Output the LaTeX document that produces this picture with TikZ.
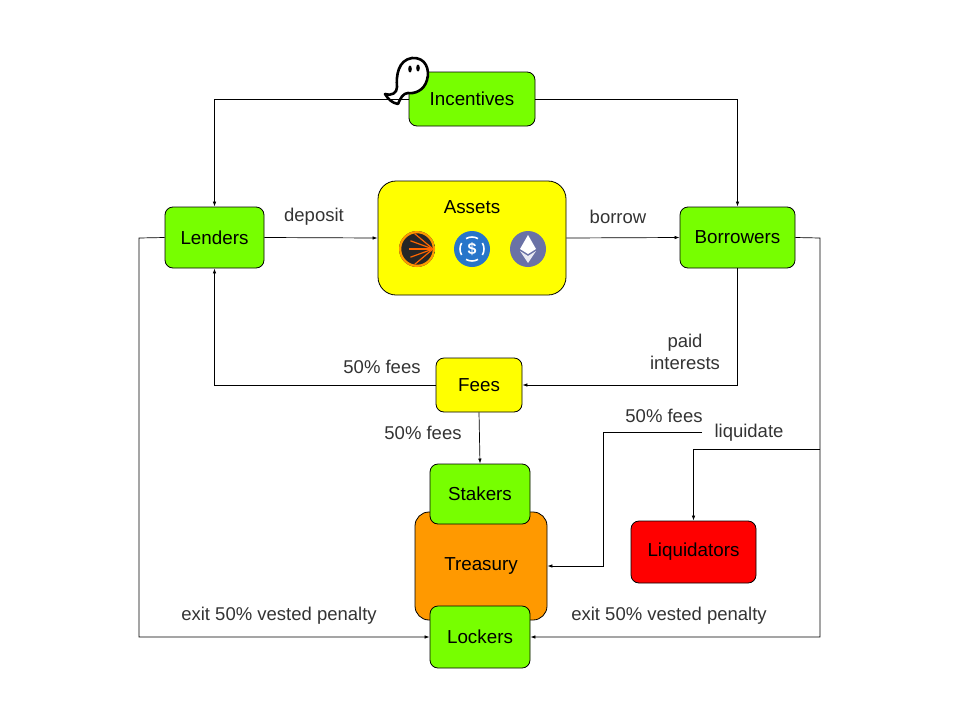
\documentclass[tikz,border=0pt]{standalone}
\usepackage{fontspec}
\setmainfont{Liberation Sans}
\usetikzlibrary{arrows.meta}
\definecolor{grn}{HTML}{77FF00}
\definecolor{yel}{HTML}{FFFF00}
\definecolor{org}{HTML}{FF9900}
\definecolor{rd}{HTML}{FF0000}
\definecolor{usdc}{HTML}{2775CA}
\definecolor{eth}{HTML}{6A72A6}
\begin{document}
\begin{tikzpicture}[x=1pt,y=-1pt,
  box/.style={draw=black,rounded corners=8pt,line width=0.8pt,inner sep=0pt,font=\fontsize{18.8}{22}\selectfont},
  lbl/.style={font=\fontsize{18.5}{22}\selectfont,text=black!80,align=center},
  con/.style={draw=black,line width=0.7pt,-{Latex[length=5pt,width=3.5pt]}}]
\useasboundingbox (0,0) rectangle (960,720);
\node[box,fill=grn,minimum width=126pt,minimum height=54pt] (inc) at (472,99) {Incentives};
\node[box,fill=grn,minimum width=99pt,minimum height=61pt] (len) at (214.5,237.5) {Lenders};
\node[box,fill=yel,rounded corners=18pt,minimum width=188pt,minimum height=114pt] (ass) at (472,238) {};
\node[font=\fontsize{18.8}{22}\selectfont] (asst) at (472,207) {Assets};
\node[box,fill=grn,minimum width=115pt,minimum height=61pt] (bor) at (737.5,237.5) {Borrowers};
\node[box,fill=yel,minimum width=86pt,minimum height=54pt] (fee) at (479,385) {Fees};
\node[box,fill=org,rounded corners=14pt,minimum width=132pt,minimum height=108pt] (tre) at (481,566) {Treasury};
\node[box,fill=grn,minimum width=100pt,minimum height=60pt] (stk) at (480,494) {Stakers};
\node[box,fill=grn,minimum width=100pt,minimum height=62pt] (lck) at (480,637) {Lockers};
\node[box,fill=rd,minimum width=125pt,minimum height=62pt] (liq) at (693.5,552) {Liquidators};
% icons
\fill[black!85] (417,249) circle (18);
\begin{scope}
\clip (417,249) circle (18);
\draw[org,line width=2.5pt] (417,249) circle (17);
\foreach \a in {-40,-20,0,20,40}{\draw[orange!80!red,line width=1.2pt] (433,249) -- ++(180+\a:24);}
\end{scope}
\fill[usdc] (472,249) circle (18);
\draw[white,line width=1.6pt] (472,249) ++(60:12) arc (60:120:12);
\draw[white,line width=1.6pt] (472,249) ++(240:12) arc (240:300:12);
\draw[white,line width=1.6pt] (472,249) ++(150:12) arc (150:210:12);
\draw[white,line width=1.6pt] (472,249) ++(-30:12) arc (-30:30:12);
\node[text=white,font=\bfseries\fontsize{16}{16}\selectfont] (usd) at (472,249) {\$};
\fill[eth] (528,249) circle (18);
\fill[white] (528,235) -- (536,249) -- (528,254) -- (520,249) -- cycle;
\fill[white!85!eth] (528,256) -- (536,251) -- (528,263) -- (520,251) -- cycle;
% ghost
\draw[fill=white,line width=2.6pt,line join=round] (398,104) .. controls (392,103) and (388,99) .. (385,94)
  .. controls (392,96) and (397,93) .. (397,87) .. controls (396,76) and (398,60) .. (412,58)
  .. controls (426,57) and (430,70) .. (427,80) .. controls (424,91) and (414,94) .. (408,93)
  .. controls (403,93) and (400,99) .. (398,104) -- cycle;
\fill (410,69) ellipse (1.8 and 3.5);
\fill (418,68) ellipse (1.8 and 3.5);
% connectors
\draw[con] (inc.west) -| (len.north);
\draw[con] (inc.east) -| (bor.north);
\draw[con] (len.east) -- (ass.west);
\node[lbl] (dep) at (314,217) {deposit};
\draw[con] (ass.east) -- (bor.west);
\node[lbl] (brw) at (618,217) {borrow};
\draw[con] (bor.south) |- (fee.east);
\node[lbl] (pi) at (685,352) {paid\\interests};
\draw[con] (fee.west) -| (len.south);
\node[lbl] (f1) at (382,367) {50\% fees};
\draw[con] (fee.south) -- (stk.north);
\node[lbl] (f2) at (423,433) {50\% fees};
\draw[con] (len.west) -- (139,238) |- (lck.west);
\node[lbl] (e1) at (279,616) {exit 50\% vested penalty};
\draw[con] (bor.east) -- (820,238) |- (lck.east);
\node[lbl] (e2) at (669,616) {exit 50\% vested penalty};
\coordinate (lq) at (820,449);
\draw[con] (lq) -| (liq.north);
\node[lbl] (lqt) at (749,433) {liquidate};
\coordinate (tf) at (702,432);
\draw[con] (tf) -- (603,432) |- (tre.east);
\node[lbl] (f3) at (664,416) {50\% fees};
\end{tikzpicture}
\end{document}
